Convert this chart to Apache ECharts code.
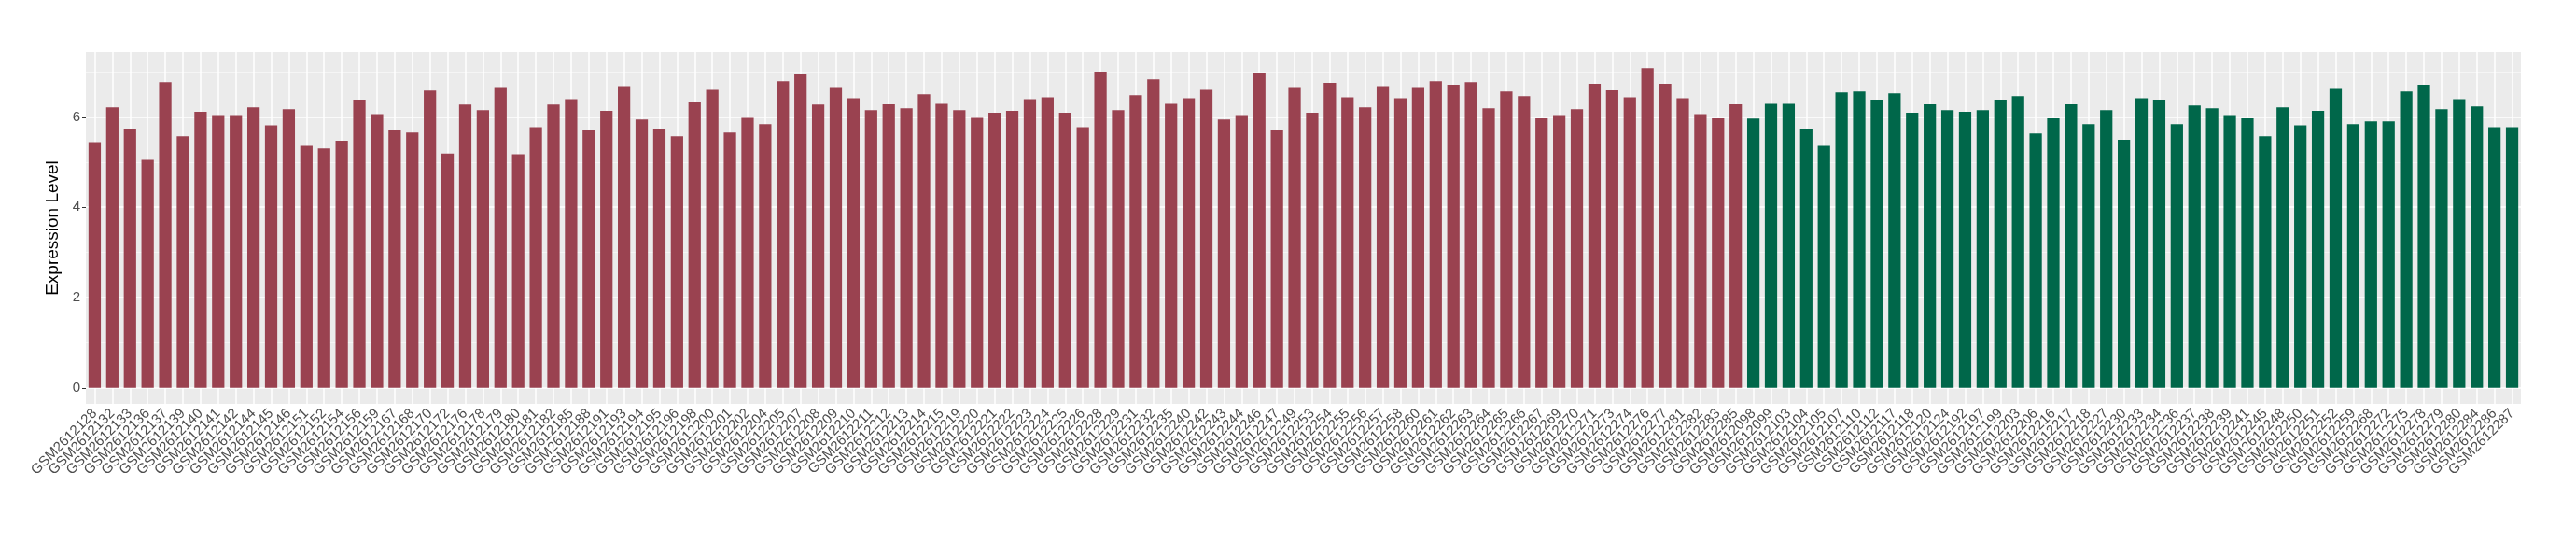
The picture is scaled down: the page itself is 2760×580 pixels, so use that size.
<!DOCTYPE html>
<html>
<head>
<meta charset="utf-8">
<title>Expression Level</title>
<script src="https://cdn.jsdelivr.net/npm/echarts@6/dist/echarts.min.js"></script>
<style>
  html, body { margin: 0; padding: 0; background: #fff; }
  #chart { width: 2760px; height: 580px; }
</style>
</head>
<body>
<div id="chart"></div>
<script>
// tumour group (red)
const tumorSamples = [
  'GSM2612128', 'GSM2612132', 'GSM2612133', 'GSM2612136', 'GSM2612137', 'GSM2612139', 'GSM2612140', 'GSM2612141',
  'GSM2612142', 'GSM2612144', 'GSM2612145', 'GSM2612146', 'GSM2612151', 'GSM2612152', 'GSM2612154', 'GSM2612156',
  'GSM2612159', 'GSM2612167', 'GSM2612168', 'GSM2612170', 'GSM2612172', 'GSM2612176', 'GSM2612178', 'GSM2612179',
  'GSM2612180', 'GSM2612181', 'GSM2612182', 'GSM2612185', 'GSM2612188', 'GSM2612191', 'GSM2612193', 'GSM2612194',
  'GSM2612195', 'GSM2612196', 'GSM2612198', 'GSM2612200', 'GSM2612201', 'GSM2612202', 'GSM2612204', 'GSM2612205',
  'GSM2612207', 'GSM2612208', 'GSM2612209', 'GSM2612210', 'GSM2612211', 'GSM2612212', 'GSM2612213', 'GSM2612214',
  'GSM2612215', 'GSM2612219', 'GSM2612220', 'GSM2612221', 'GSM2612222', 'GSM2612223', 'GSM2612224', 'GSM2612225',
  'GSM2612226', 'GSM2612228', 'GSM2612229', 'GSM2612231', 'GSM2612232', 'GSM2612235', 'GSM2612240', 'GSM2612242',
  'GSM2612243', 'GSM2612244', 'GSM2612246', 'GSM2612247', 'GSM2612249', 'GSM2612253', 'GSM2612254', 'GSM2612255',
  'GSM2612256', 'GSM2612257', 'GSM2612258', 'GSM2612260', 'GSM2612261', 'GSM2612262', 'GSM2612263', 'GSM2612264',
  'GSM2612265', 'GSM2612266', 'GSM2612267', 'GSM2612269', 'GSM2612270', 'GSM2612271', 'GSM2612273', 'GSM2612274',
  'GSM2612276', 'GSM2612277', 'GSM2612281', 'GSM2612282', 'GSM2612283', 'GSM2612285'
]
const tumorValues = [
  5.44, 6.21, 5.74, 5.07, 6.77, 5.57, 6.11, 6.04,
  6.04, 6.21, 5.81, 6.17, 5.38, 5.30, 5.47, 6.38,
  6.06, 5.72, 5.65, 6.58, 5.19, 6.27, 6.15, 6.66,
  5.17, 5.77, 6.27, 6.39, 5.72, 6.13, 6.68, 5.94,
  5.74, 5.57, 6.34, 6.62, 5.65, 6.00, 5.84, 6.79,
  6.96, 6.27, 6.66, 6.41, 6.15, 6.29, 6.19, 6.50,
  6.31, 6.15, 6.00, 6.09, 6.13, 6.39, 6.43, 6.09,
  5.77, 7.00, 6.15, 6.48, 6.83, 6.31, 6.41, 6.62,
  5.94, 6.04, 6.98, 5.72, 6.66, 6.09, 6.75, 6.43,
  6.21, 6.68, 6.41, 6.66, 6.79, 6.71, 6.77, 6.19,
  6.56, 6.46, 5.98, 6.04, 6.17, 6.73, 6.60, 6.43,
  7.08, 6.73, 6.41, 6.06, 5.98, 6.29
]

// normal group (green)
const normalSamples = [
  'GSM2612098', 'GSM2612099', 'GSM2612103', 'GSM2612104', 'GSM2612105', 'GSM2612107', 'GSM2612110', 'GSM2612112',
  'GSM2612117', 'GSM2612118', 'GSM2612120', 'GSM2612124', 'GSM2612192', 'GSM2612197', 'GSM2612199', 'GSM2612203',
  'GSM2612206', 'GSM2612216', 'GSM2612217', 'GSM2612218', 'GSM2612227', 'GSM2612230', 'GSM2612233', 'GSM2612234',
  'GSM2612236', 'GSM2612237', 'GSM2612238', 'GSM2612239', 'GSM2612241', 'GSM2612245', 'GSM2612248', 'GSM2612250',
  'GSM2612251', 'GSM2612252', 'GSM2612259', 'GSM2612268', 'GSM2612272', 'GSM2612275', 'GSM2612278', 'GSM2612279',
  'GSM2612280', 'GSM2612284', 'GSM2612286', 'GSM2612287'
]
const normalValues = [
  5.96, 6.31, 6.31, 5.74, 5.38, 6.54, 6.56, 6.38,
  6.52, 6.09, 6.29, 6.15, 6.11, 6.15, 6.38, 6.46,
  5.63, 5.98, 6.29, 5.84, 6.15, 5.49, 6.41, 6.38,
  5.84, 6.25, 6.19, 6.04, 5.98, 5.57, 6.21, 5.81,
  6.13, 6.64, 5.84, 5.90, 5.90, 6.56, 6.71, 6.17,
  6.39, 6.23, 5.77, 5.77
]

const majorTicks = [0, 2, 4, 6]
const minorTicks = [1, 3, 5, 7]

const tumorColor = '#9A4250'
const normalColor = '#00674A'

const categories = tumorSamples.concat(normalSamples)
const barData = tumorValues.map(v => ({ value: v, itemStyle: { color: tumorColor } }))
  .concat(normalValues.map(v => ({ value: v, itemStyle: { color: normalColor } })))

// ggplot-like 5% expansion of the value range
const yMax = Math.max.apply(null, tumorValues.concat(normalValues))
const pad = yMax * 0.05

const chart = echarts.init(document.getElementById('chart'))
chart.setOption({
  animation: false,
  textStyle: { fontFamily: 'Liberation Sans, Arial, sans-serif' },
  grid: {
    left: 92,
    right: 59,
    top: 56,
    bottom: 147,
    show: true,
    backgroundColor: '#EBEBEB',
    borderWidth: 0
  },
  xAxis: {
    type: 'category',
    data: categories,
    boundaryGap: true,
    axisLine: { show: false },
    axisTick: { alignWithLabel: true, length: 3, lineStyle: { color: '#333333' } },
    splitLine: { show: true, alignWithLabel: true, lineStyle: { color: '#ffffff', width: 1.5 } },
    axisLabel: {
      interval: 0,
      rotate: 45,
      margin: 8,
      fontSize: 15,
      color: '#4D4D4D'
    }
  },
  yAxis: [{
    type: 'value',
    min: -pad,
    max: yMax + pad,
    name: 'Expression Level',
    nameLocation: 'middle',
    nameGap: 18,
    nameTextStyle: { fontSize: 19, color: '#000000' },
    axisLine: { show: false },
    axisTick: { show: true, length: 4, customValues: majorTicks, lineStyle: { color: '#333333' } },
    axisLabel: { customValues: majorTicks, fontSize: 15, color: '#4D4D4D', margin: 6 },
    splitLine: { show: true, lineStyle: { color: '#ffffff', width: 1.5 } }
  }, {
    type: 'value',
    min: -pad,
    max: yMax + pad,
    axisLine: { show: false },
    axisTick: { show: false, customValues: minorTicks },
    axisLabel: { show: false, customValues: minorTicks },
    splitLine: { show: true, lineStyle: { color: '#F7F7F7', width: 0.8 } }
  }],
  series: [{
    type: 'bar',
    yAxisIndex: 0,
    barWidth: '70%',
    data: barData
  }]
})
</script>
</body>
</html>
